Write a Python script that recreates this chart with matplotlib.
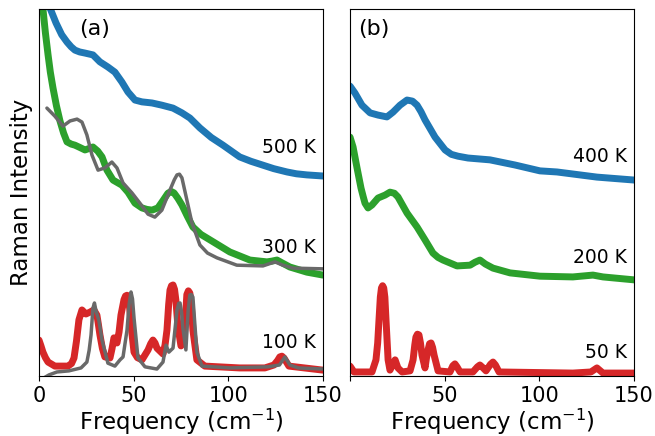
import matplotlib
matplotlib.use("Agg")
import matplotlib.pyplot as plt

# ---- (a) measured spectra, cm^-1 vs. normalised intensity ----
freq_500 = [0, 3.0, 5.8, 9.0, 12.0, 14.8, 17.0, 19.0, 21.5, 24.3, 28.5, 32.2, 36.4, 40.1,
            43.8, 47.0, 50.7, 54.4, 59.7, 64.9, 70.8, 75.5, 79.7, 85.0, 91.0, 97.2, 106,
            112, 118, 124, 131, 136, 141.5, 150]
int_500 = [1.08, 1.04, 1.003, 0.962, 0.930, 0.910, 0.897, 0.888, 0.883, 0.880, 0.875,
           0.856, 0.842, 0.828, 0.801, 0.774, 0.752, 0.747, 0.744, 0.738, 0.730, 0.717,
           0.703, 0.676, 0.650, 0.629, 0.597, 0.585, 0.575, 0.565, 0.556, 0.551, 0.548,
           0.545]

freq_300 = [0, 1.0, 2.1, 3.4, 4.8, 6.0, 7.4, 9.2, 11.1, 13.0, 14.8, 17.0, 19.0, 21.5,
            24.3, 26.5, 28.5, 31.0, 33.3, 35.9, 39.1, 43.8, 47.0, 50.7, 54.4, 57.0, 59.7,
            62.8, 65.5, 68.1, 69.8, 71.3, 73.4, 75.5, 78.3, 81.3, 85.5, 90.3, 100.8, 111.4,
            120.4, 123.0, 125.7, 128.5, 132.5, 141.5, 150]
int_300 = [1.12, 1.06, 1.0, 0.935, 0.875, 0.828, 0.785, 0.737, 0.695, 0.662, 0.638,
           0.632, 0.629, 0.623, 0.616, 0.620, 0.624, 0.613, 0.597, 0.561, 0.534, 0.520,
           0.501, 0.471, 0.458, 0.454, 0.452, 0.458, 0.478, 0.498, 0.503, 0.499, 0.484,
           0.466, 0.436, 0.406, 0.386, 0.371, 0.338, 0.316, 0.311, 0.313, 0.316, 0.308,
           0.297, 0.283, 0.275]

freq_100 = [0, 1.0, 2.1, 3.4, 4.8, 8.4, 15.3, 17.2, 18.5, 19.8, 21.1, 22.7, 24.8, 26.9,
            29.0, 30.6, 31.4, 32.2, 33.5, 34.8, 37.5, 38.6, 39.6, 41.2, 42.3, 43.3, 44.9,
            45.7, 46.5, 47.3, 48.0, 49.0, 50.2, 52.0, 54.4, 57.6, 59.0, 60.2, 61.3, 62.3,
            65.5, 66.6, 67.6, 68.5, 69.2, 70.0, 70.8, 71.6, 72.3, 73.4, 75.0, 76.6, 77.4,
            78.1, 78.9, 79.7, 80.5, 81.3, 83.4, 87.6, 106, 119.3, 124.1, 126.0, 127.2,
            128.3, 129.4, 132, 150]
int_100 = [0.098, 0.083, 0.065, 0.050, 0.038, 0.027, 0.027, 0.034, 0.049, 0.095, 0.153,
           0.180, 0.169, 0.174, 0.180, 0.166, 0.140, 0.112, 0.075, 0.052, 0.049, 0.075,
           0.104, 0.090, 0.120, 0.166, 0.208, 0.218, 0.220, 0.210, 0.180, 0.120, 0.065,
           0.050, 0.044, 0.071, 0.088, 0.098, 0.090, 0.076, 0.060, 0.085, 0.125, 0.195,
           0.234, 0.246, 0.248, 0.236, 0.207, 0.134, 0.082, 0.098, 0.160, 0.222, 0.232,
           0.226, 0.190, 0.125, 0.044, 0.027, 0.022, 0.022, 0.030, 0.042, 0.052, 0.054,
           0.049, 0.027, 0.016]

# ---- (a) calculated spectra ----
calc_freq_300 = [4.2, 8.4, 12.7, 16.4, 20.1, 22.7, 25.3, 28.0, 31.2, 34.8, 38.5, 41.2,
                 44.4, 49.1, 53.3, 57.6, 61.2, 64.9, 69.2, 71.5, 72.9, 74.2, 75.5, 78.1,
                 80.8, 85.0, 89.0, 94.0, 104.5, 118.3, 124.6, 128.8, 134.1, 150]
calc_int_300 = [0.730, 0.708, 0.681, 0.695, 0.700, 0.692, 0.657, 0.602, 0.561, 0.567,
                0.583, 0.567, 0.526, 0.499, 0.471, 0.441, 0.433, 0.452, 0.507, 0.535,
                0.548, 0.550, 0.540, 0.480, 0.417, 0.357, 0.335, 0.322, 0.302, 0.300,
                0.311, 0.302, 0.294, 0.292]

calc_freq_100 = [1, 5.3, 9.5, 15.8, 22.2, 25.3, 26.5, 27.5, 28.5, 29.3, 30.1, 31.7, 33.3,
                 36.4, 40.1, 42.8, 44.4, 46.5, 47.6, 48.6, 49.4, 50.2, 52.3, 56.0, 62.3,
                 65.5, 67.1, 68.6, 70.8, 72.9, 73.8, 74.5, 75.3, 76.0, 77.6, 78.8, 79.7,
                 80.5, 81.3, 83.4, 86.1, 101, 121, 127, 129.9, 132.5, 137, 150]
calc_int_100 = [-0.01, 0.003, 0.011, 0.014, 0.022, 0.038, 0.070, 0.112, 0.185, 0.199,
                0.178, 0.150, 0.098, 0.035, 0.027, 0.044, 0.052, 0.125, 0.195, 0.229,
                0.210, 0.158, 0.049, 0.025, 0.019, 0.038, 0.084, 0.065, 0.076, 0.180,
                0.198, 0.199, 0.175, 0.131, 0.071, 0.180, 0.221, 0.222, 0.215, 0.065,
                0.027, 0.022, 0.025, 0.030, 0.052, 0.030, 0.022, 0.019]

# ---- (b) measured spectra ----
freq_400 = [0, 2.6, 6.3, 10.6, 14.8, 19.5, 22.7, 26.4, 30.1, 33.0, 35.4, 37.5, 39.6, 44.9,
            50.2, 53.5, 57.0, 62.3, 73.9, 87.1, 100.3, 109.3, 130.4, 150]
int_400 = [0.790, 0.771, 0.738, 0.717, 0.711, 0.706, 0.719, 0.738, 0.752, 0.749, 0.738,
           0.720, 0.698, 0.651, 0.616, 0.604, 0.599, 0.594, 0.589, 0.575, 0.559, 0.556,
           0.542, 0.534]

freq_200 = [0, 1.6, 3.7, 5.8, 7.0, 7.9, 9.5, 11.6, 14.8, 18.5, 21.1, 23.4, 25.3, 30.1,
            35.4, 39.6, 43.8, 46.5, 49.1, 56.5, 63.4, 66.0, 68.6, 71.5, 75.5, 84.5, 100.3,
            117.7, 128.3, 133.6, 150]
int_200 = [0.651, 0.624, 0.567, 0.512, 0.488, 0.471, 0.458, 0.466, 0.485, 0.493, 0.501,
           0.498, 0.488, 0.444, 0.406, 0.371, 0.335, 0.323, 0.316, 0.300, 0.302, 0.310,
           0.316, 0.305, 0.294, 0.281, 0.272, 0.270, 0.275, 0.270, 0.262]

freq_50 = [0, 2.1, 11.6, 13.7, 14.6, 15.3, 16.0, 16.6, 17.2, 17.8, 18.4, 19.0, 20.1, 21.1,
           22.7, 23.8, 25.3, 27.5, 31.7, 33.3, 34.2, 34.8, 35.6, 36.4, 37.2, 38.0, 39.6,
           40.4, 41.2, 42.0, 42.8, 43.6, 44.4, 46.5, 52.8, 54.3, 55.4, 56.5, 58.1, 64.9,
           67.3, 68.6, 69.9, 71.8, 74.2, 75.5, 76.8, 78.7, 117.7, 127.2, 130.4, 133.6, 150]
int_50 = [0.027, 0.011, 0.011, 0.044, 0.090, 0.153, 0.215, 0.240, 0.246, 0.240, 0.215,
          0.153, 0.044, 0.016, 0.033, 0.044, 0.022, 0.011, 0.014, 0.044, 0.085, 0.106,
          0.114, 0.112, 0.090, 0.057, 0.022, 0.050, 0.071, 0.088, 0.090, 0.078, 0.057,
          0.014, 0.011, 0.028, 0.033, 0.025, 0.011, 0.011, 0.025, 0.030, 0.024, 0.014,
          0.032, 0.038, 0.030, 0.011, 0.008, 0.011, 0.022, 0.008, 0.008]

xticks = [0, 50, 100, 150]
left_ticklabels = ["0", "50", "100", "150"]
right_ticklabels = ["", "50", "100", "150"]

blue, green, red, grey = "#1f77b4", "#2ca02c", "#d62728", "dimgray"
thick = dict(lw=5, solid_joinstyle="round", solid_capstyle="round")
thin = dict(lw=2.5, solid_joinstyle="round", solid_capstyle="round")

fig = plt.figure(figsize=(6.55, 4.36), dpi=100)
ax_a = fig.add_axes([0.0595, 0.1376, 0.4336, 0.8417])
ax_b = fig.add_axes([0.5344, 0.1376, 0.4336, 0.8417])

# panel (a): experiment (thick) + calculation (thin grey)
ax_a.plot(freq_500, int_500, color=blue, **thick)
ax_a.plot(freq_300, int_300, color=green, **thick)
ax_a.plot(freq_100, int_100, color=red, **thick)
ax_a.plot(calc_freq_300, calc_int_300, color=grey, **thin)
ax_a.plot(calc_freq_100, calc_int_100, color=grey, **thin)

# panel (b)
ax_b.plot(freq_400, int_400, color=blue, **thick)
ax_b.plot(freq_200, int_200, color=green, **thick)
ax_b.plot(freq_50, int_50, color=red, **thick)

for ax, labels in [(ax_a, left_ticklabels), (ax_b, right_ticklabels)]:
    ax.set_xlim(0, 150)
    ax.set_ylim(0, 1)
    ax.set_yticks([])
    ax.set_xticks(xticks)
    ax.set_xticklabels(labels)
    ax.tick_params(axis="x", labelsize=15)
    ax.set_xlabel("Frequency (cm$^{-1}$)", fontsize=16.5, labelpad=1)

ax_a.set_ylabel("Raman Intensity", fontsize=16.5)

ax_a.text(0.14, 0.945, "(a)", transform=ax_a.transAxes, fontsize=16, va="center")
ax_b.text(0.03, 0.945, "(b)", transform=ax_b.transAxes, fontsize=16, va="center")

for ax, txt, y in [(ax_a, "500 K", 0.624), (ax_a, "300 K", 0.351), (ax_a, "100 K", 0.090),
                   (ax_b, "400 K", 0.597), (ax_b, "200 K", 0.322), (ax_b, "50 K", 0.063)]:
    ax.text(0.975, y, txt, transform=ax.transAxes, ha="right", va="center", fontsize=13.5)

plt.savefig("out.png", dpi=100)
